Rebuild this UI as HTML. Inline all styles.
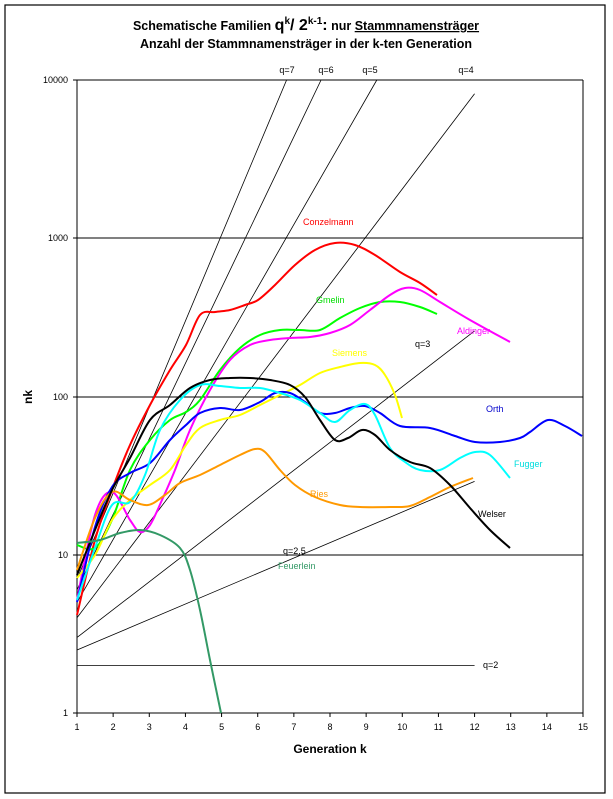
<!DOCTYPE html><html><head><meta charset="utf-8"><style>
body{margin:0;background:#fff}
svg{display:block;font-family:"Liberation Sans",Arial,sans-serif}
</style></head><body>
<svg id="s" width="613" height="799" viewBox="0 0 613 799">
<rect x="5" y="5" width="600" height="788" fill="#fff" stroke="#000" stroke-width="1.2"/>
<text x="306" y="30" text-anchor="middle" font-size="12.5" font-weight="bold">Schematische Familien <tspan font-size="16">q</tspan><tspan dy="-6" font-size="10">k</tspan><tspan dy="6" font-size="16">/ 2</tspan><tspan dy="-6" font-size="10">k-1</tspan><tspan dy="6" font-size="16">:</tspan> nur <tspan text-decoration="underline">Stammnamensträger</tspan></text>
<text x="306" y="48" text-anchor="middle" font-size="12.5" font-weight="bold">Anzahl der Stammnamensträger in der k-ten Generation</text>
<g stroke="#000" stroke-width="1">
<line x1="77" y1="80" x2="583" y2="80"/><line x1="77" y1="238" x2="583" y2="238"/><line x1="77" y1="397" x2="583" y2="397"/><line x1="77" y1="555" x2="583" y2="555"/>
<line x1="77" y1="80" x2="77" y2="713"/><line x1="583" y1="80" x2="583" y2="713"/><line x1="77" y1="713" x2="583" y2="713"/>
</g>
<g id="ticks" stroke="#000"></g>
<g font-size="9" text-anchor="end"><text x="68" y="83">10000</text><text x="68" y="241">1000</text><text x="68" y="400">100</text><text x="68" y="558">10</text><text x="68" y="716">1</text></g>
<g id="xl" font-size="9" text-anchor="middle"></g>
<text x="32" y="397" font-size="12" font-weight="bold" transform="rotate(-90 32 397)" text-anchor="middle">nk</text>
<text x="330" y="753" font-size="12" font-weight="bold" text-anchor="middle">Generation k</text>
<g id="ref" stroke="#000" stroke-width="0.8" fill="none"></g>
<g id="fam" fill="none" stroke-width="2"></g>
<g font-size="9">
<text x="287" y="73" text-anchor="middle">q=7</text><text x="326" y="73" text-anchor="middle">q=6</text><text x="370" y="73" text-anchor="middle">q=5</text><text x="466" y="73" text-anchor="middle">q=4</text>
<text x="415" y="347">q=3</text><text x="283" y="554">q=2,5</text><text x="483" y="668">q=2</text>
<text x="303" y="225" fill="#ff0000">Conzelmann</text><text x="316" y="303" fill="#00dd00">Gmelin</text><text x="457" y="334" fill="#ff00ff">Aldinger</text><text x="332" y="356" fill="#ffff00">Siemens</text><text x="486" y="412" fill="#0000cc">Orth</text><text x="514" y="467" fill="#00dddd">Fugger</text><text x="310" y="497" fill="#ff9900">Ries</text><text x="478" y="517">Welser</text><text x="278" y="569" fill="#339966">Feuerlein</text>
</g>
</svg>
<script>
var NS="http://www.w3.org/2000/svg";
function X(k){return 77+(k-1)*506/14}
function Y(n){return 713-158.25*Math.log10(n)}
var t=document.getElementById('ticks'),xl=document.getElementById('xl');
for(var k=1;k<=15;k++){var l=document.createElementNS(NS,'line');l.setAttribute('x1',X(k));l.setAttribute('x2',X(k));l.setAttribute('y1',713);l.setAttribute('y2',717);t.appendChild(l);
var tx=document.createElementNS(NS,'text');tx.setAttribute('x',X(k));tx.setAttribute('y',730);tx.textContent=k;xl.appendChild(tx);}
[80,238,397,555,713].forEach(function(y){var l=document.createElementNS(NS,'line');l.setAttribute('x1',73);l.setAttribute('x2',77);l.setAttribute('y1',y);l.setAttribute('y2',y);t.appendChild(l);});
var ref=document.getElementById('ref');
[[7,null],[6,null],[5,null],[4,12],[3,12],[2.5,12],[2,12]].forEach(function(a){var q=a[0],lq=Math.log10(q),l2=Math.log10(2);var ke=a[1];if(!ke){ke=(4-l2)/(lq-l2);}
var n1=q,n2=Math.pow(10,ke*lq-(ke-1)*l2);var l=document.createElementNS(NS,'line');l.setAttribute('x1',77);l.setAttribute('y1',Y(n1));l.setAttribute('x2',X(ke));l.setAttribute('y2',Y(n2));ref.appendChild(l);});
function path(p){var d='M'+p[0][0]+','+p[0][1];for(var i=0;i<p.length-1;i++){var p0=p[i-1]||p[i],p1=p[i],p2=p[i+1],p3=p[i+2]||p2;
d+=' C'+(p1[0]+(p2[0]-p0[0])/6)+','+(p1[1]+(p2[1]-p0[1])/6)+' '+(p2[0]-(p3[0]-p1[0])/6)+','+(p2[1]-(p3[1]-p1[1])/6)+' '+p2[0]+','+p2[1];}return d;}
var F=[
['#ff0000',[[77,615],[95,540],[112,490],[130,445],[150,405],[170,370],[186,345],[200,315],[215,312],[230,310],[245,305],[258,300],[275,285],[295,265],[315,250],[335,243],[355,245],[375,255],[400,272],[420,283],[437,295]]],
['#00ff00',[[77,545],[95,548],[112,520],[130,470],[150,440],[170,420],[186,412],[200,400],[220,370],[240,348],[260,335],[280,330],[300,330],[320,330],[340,318],[360,308],[380,302],[400,302],[420,307],[437,314]]],
['#ff00ff',[[77,600],[95,515],[112,492],[130,520],[140,532],[150,525],[162,500],[175,470],[190,430],[210,390],[230,360],[250,345],[270,340],[290,338],[310,337],[330,333],[350,325],[370,310],[390,295],[405,288],[420,290],[440,302],[470,320],[510,342]]],
['#ffff00',[[77,578],[95,555],[112,520],[130,500],[150,485],[170,470],[186,445],[200,428],[220,420],[240,415],[260,405],[280,395],[300,385],[320,373],[340,367],[360,363],[375,365],[385,375],[395,395],[402,418]]],
['#0000ff',[[77,602],[95,527],[112,487],[130,473],[150,463],[170,440],[186,425],[200,413],[220,408],[240,410],[260,402],[275,393],[290,393],[305,402],[320,413],[335,413],[350,408],[365,406],[380,413],[400,426],[430,428],[455,436],[475,442],[500,442],[520,438],[530,432],[548,420],[565,426],[582,436]]],
['#00ffff',[[77,600],[95,548],[112,505],[130,502],[145,475],[160,430],[180,400],[200,385],[220,386],[240,388],[260,388],[280,393],[300,400],[320,413],[335,422],[350,410],[365,404],[375,415],[390,448],[405,462],[420,470],[440,470],[460,458],[475,452],[490,455],[510,478]]],
['#ff9900',[[77,570],[95,518],[112,492],[130,500],[148,505],[165,495],[180,483],[200,475],[220,465],[240,455],[255,449],[265,452],[280,470],[295,485],[315,497],[340,505],[360,507],[390,507],[410,506],[430,497],[450,487],[473,478]]],
['#000000',[[77,575],[95,530],[112,490],[130,458],[150,420],[170,405],[190,388],[210,380],[230,378],[250,378],[270,380],[290,385],[305,397],[320,420],[335,440],[348,438],[362,430],[375,435],[390,450],[410,462],[430,468],[450,485],[470,508],[490,530],[510,548]]],
['#339966',[[77,543],[100,540],[120,533],[140,530],[160,535],[180,548],[190,570],[200,610],[210,660],[221,713]]]];
var fam=document.getElementById('fam');
F.forEach(function(f){var p=document.createElementNS(NS,'path');p.setAttribute('d',path(f[1]));p.setAttribute('stroke',f[0]);fam.appendChild(p);});
</script>
</body></html>
